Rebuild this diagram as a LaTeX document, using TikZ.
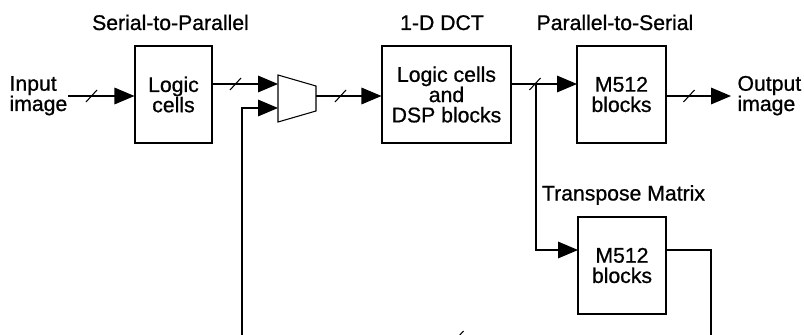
\documentclass[tikz,border=0pt]{standalone}
\usepackage{fontspec}
\setmainfont{Liberation Sans}[FakeBold=0.8]
\usetikzlibrary{arrows.meta}
\begin{document}
\begin{tikzpicture}[x=0.75pt,y=-0.75pt,line width=0.8pt,
  every node/.style={font=\fontsize{15.9}{15.2}\selectfont, inner sep=0pt},
  blk/.style={draw, line width=0.8pt, align=center, minimum height=72.75pt},
  arr/.style={-{Triangle[length=15pt,width=12.5pt]}},
  bus/.pic={\draw[line width=0.8pt] (-5.5,6) -- (5.5,-6);}
]
\useasboundingbox (0,0) rectangle (804,335);
% titles
\node[anchor=base] (tsp) at (170.5,30) {Serial-to-Parallel};
\node[anchor=base] (tdct) at (442,30) {1-D DCT};
\node[anchor=base] (tps) at (615,30) {Parallel-to-Serial};
\node[anchor=base] (ttr) at (623.5,200.5) {Transpose Matrix};
% blocks
\node[blk, minimum width=57.75pt] (logic) at (173.5,94.5) {Logic\\cells};
\node[blk, minimum width=96.75pt] (dct) at (446.5,94.5) {Logic cells\\and\\DSP blocks};
\node[blk, minimum width=66.75pt] (p2s) at (621.5,94.5) {M512\\blocks};
\node[blk, minimum width=66pt] (tr) at (622,265.5) {M512\\blocks};
% mux
\draw (278,75) -- (316,86) -- (316,111) -- (278,122) -- cycle;
\coordinate (muxin1) at (278,84);
\coordinate (muxin2) at (278,108);
\coordinate (muxout) at (316,96);
% side labels
\node[anchor=base west, align=left] (inlbl) at (9,111) {Input\\image};
\node[anchor=base west, align=left] (outlbl) at (737,111) {Output\\image};
% connectors
\coordinate (in) at (68,96);
\coordinate (out) at (731,96);
\coordinate (p2sin) at (577,84);
\coordinate (br) at (536,84);
\coordinate (trin) at (578,250);
\coordinate (trout) at (666,250);
\coordinate (fb1) at (711,337);
\coordinate (fb2) at (242,337);
\draw[arr] (in) -- (in -| logic.west);
\draw[arr] (logic.east |- muxin1) -- (muxin1);
\draw[arr] (muxout) -- (muxout -| dct.west);
\draw[arr] (dct.east |- p2sin) -- (p2sin);
\draw[arr] (p2s.east |- out) -- (out);
\draw[arr] (br) |- (trin);
\draw[arr] (trout) -| (fb1) -- (fb2) |- (muxin2);
% bus marks
\pic at (91.5,96) {bus};
\pic at (235.5,84) {bus};
\pic at (340.5,96) {bus};
\pic at (535,84) {bus};
\pic at (689,96) {bus};
\pic at (458,337) {bus};
\end{tikzpicture}
\end{document}
